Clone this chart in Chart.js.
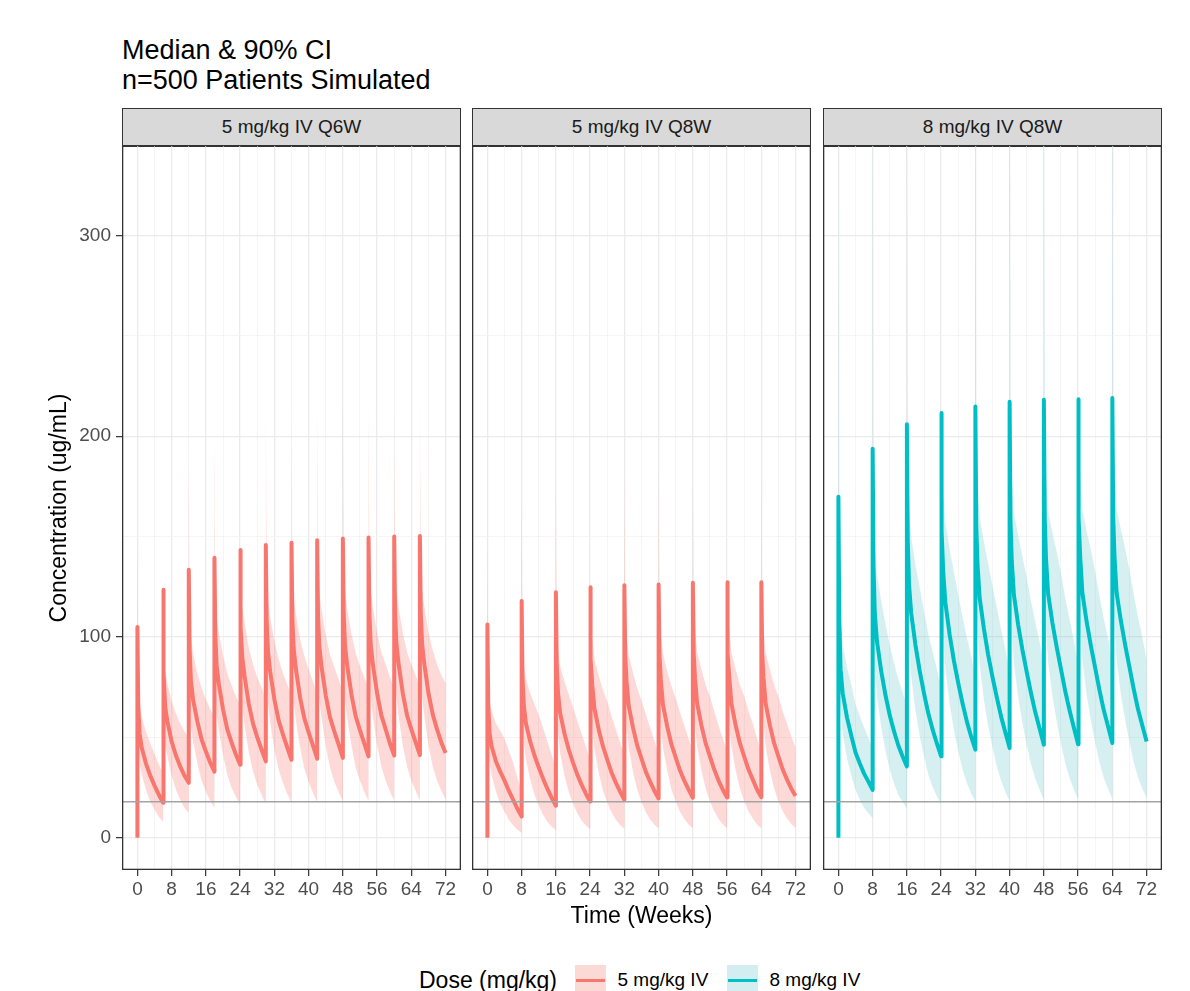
<!DOCTYPE html>
<html>
<head>
<meta charset="utf-8">
<script src="https://cdn.jsdelivr.net/npm/chart.js@4.4.1/dist/chart.umd.min.js"></script>
<style>
  html, body { margin: 0; padding: 0; background: #fff; }
  body { width: 1190px; height: 991px; overflow: hidden; position: relative;
         font-family: 'Liberation Sans', Arial, Helvetica, sans-serif; }
  .abs { position: absolute; white-space: nowrap; }
  canvas { position: absolute; }
  .strip { position: absolute; box-sizing: border-box; top: 108px; height: 38.5px;
           background: #d9d9d9; border: 1.3px solid #333; text-align: center;
           font-size: 19px; line-height: 35px; color: #1a1a1a; }
  .key { position: absolute; top: 965px; width: 31px; height: 31px; }
  .key span { position: absolute; left: 1px; right: 1px; top: 13.8px; height: 3.5px; }
</style>
</head>
<body>
<div class="abs" style="left:122px; top:34.5px; font-size:27px; line-height:30.7px; color:#000;">Median &amp; 90% CI<br>n=500 Patients Simulated</div>

<div class="strip" style="left:122px; width:339px;" id="strip0"></div>
<div class="strip" style="left:472px; width:339px;" id="strip1"></div>
<div class="strip" style="left:823px; width:339px;" id="strip2"></div>

<canvas id="c0" width="401" height="765" style="left:60px; top:145px; width:401px; height:765px;"></canvas>
<canvas id="c1" width="339" height="765" style="left:472px; top:145px; width:339px; height:765px;"></canvas>
<canvas id="c2" width="339" height="765" style="left:823px; top:145px; width:339px; height:765px;"></canvas>

<div class="abs" style="left:-142px; top:492.5px; width:400px; height:30px; line-height:30px; text-align:center; font-size:23px; transform:rotate(-90deg);">Concentration (ug/mL)</div>
<div class="abs" style="left:341.5px; top:900px; width:600px; height:30px; line-height:30px; text-align:center; font-size:23px;">Time (Weeks)</div>

<div class="abs" style="left:419px; top:965px; font-size:23px; line-height:30px;">Dose (mg/kg)</div>
<div class="key" style="left:574.5px; background:#fbdad5;"><span style="background:#f8766d;"></span></div>
<div class="abs" style="left:617.5px; top:965.4px; font-size:19px; line-height:30px;" id="leg0"></div>
<div class="key" style="left:726.5px; background:#d3eef0;"><span style="background:#00bfc4;"></span></div>
<div class="abs" style="left:769.5px; top:965.4px; font-size:19px; line-height:30px;" id="leg1"></div>

<script>
// ---- data ----
const panelTitles = ['5 mg/kg IV Q6W', '5 mg/kg IV Q8W', '8 mg/kg IV Q8W'];
const doseLabels = ['5 mg/kg IV', '8 mg/kg IV'];
const weekTicks = [0, 8, 16, 24, 32, 40, 48, 56, 64, 72];
const weekGrid = [0, 4, 8, 12, 16, 20, 24, 28, 32, 36, 40, 44, 48, 52, 56, 60, 64, 68, 72];
const concTicks = [0, 100, 200, 300];
const concGrid = [0, 50, 100, 150, 200, 250, 300];
const refLevel = 18;
const predose = 0;

const q6wDoseWeeks = [0, 6, 12, 18, 24, 30, 36, 42, 48, 54, 60, 66];
const q8wDoseWeeks = [0, 8, 16, 24, 32, 40, 48, 56, 64];
// sampling times after each dose (weeks)
const q6wOffsets = [0, 0.2, 0.5, 1, 2, 3, 4, 5, 6];
const q8wOffsets = [0, 0.2, 0.5, 1, 2, 3, 4, 5, 6, 7, 8];

// 5 mg/kg Q6W
const q6w5Median = [
  [105, 66, 52, 45, 37, 31, 26, 21.5, 17.5],
  [123.5, 82, 65, 58, 48, 41, 35.5, 31, 27.4],
  [133.5, 94, 78, 69, 58, 49, 43, 37.5, 33],
  [139.5, 101, 86, 77, 64, 54, 47.5, 41.5, 36.4],
  [143.3, 105, 90, 81, 67, 57, 50, 44, 38.1],
  [145.8, 108, 93, 83, 69, 58.5, 51.5, 45, 38.9],
  [147, 109, 94.5, 84.5, 70, 59.5, 52.5, 46, 39.4],
  [148.2, 110, 95.5, 85.5, 71, 60, 53, 46.5, 39.8],
  [149.1, 111, 96, 86, 71.5, 60.5, 53.5, 47, 40.6],
  [149.6, 111.5, 96.5, 86.5, 72, 61, 54, 47, 41],
  [150, 112, 97, 87, 72, 61, 54, 47.5, 41.2],
  [150.3, 112, 97, 87, 72, 61.5, 54, 47.5, 42.2]
];
const q6w5Lower = [
  [84, 50, 37, 31.5, 24, 18, 14, 10.5, 8],
  [99, 61.5, 47, 40.5, 31, 24, 19, 15, 12.5],
  [107, 70.5, 56, 48, 37, 28.5, 23, 18.5, 15],
  [112, 76, 62, 54, 41, 31.5, 25, 20.5, 16.5],
  [115, 79, 65, 56.5, 43, 33, 26.5, 21.5, 17],
  [117, 81, 67, 58, 44, 34, 27.5, 22, 17.5],
  [118, 82, 68, 59, 45, 34.5, 28, 22.5, 17.7],
  [119, 82.5, 69, 60, 45.5, 35, 28, 23, 18],
  [119, 83, 69, 60, 46, 35, 28.5, 23, 18.3],
  [120, 83.5, 69.5, 60.5, 46, 35.5, 28.5, 23, 18.5],
  [120, 84, 70, 61, 46, 35.5, 28.5, 23.5, 18.5],
  [120, 84, 70, 61, 46, 35.5, 28.5, 23.5, 19]
];
const q6w5Upper = [
  [152, 79, 67, 60, 53, 47, 42, 36.5, 32],
  [179, 98, 83, 77, 68, 62, 57, 53, 50],
  [194, 113, 100, 92, 82, 74.5, 69, 64, 60],
  [202, 121, 110, 102, 91, 82, 76, 70.5, 66],
  [208, 126, 115, 108, 95, 86.5, 80, 75, 69],
  [211, 130, 119, 110, 98, 89, 82, 76.5, 71],
  [213, 131, 121, 112, 99, 90.5, 84, 78, 72],
  [215, 132, 122, 114, 101, 91, 85, 79, 72.5],
  [216, 133, 123, 114, 101.5, 92, 85.5, 80, 74],
  [217, 134, 123.5, 115, 102, 92.5, 86.5, 80, 74.5],
  [217.5, 134.5, 124, 115.5, 102, 92.5, 86.5, 81, 75],
  [218, 134.5, 124, 115.5, 102, 93.5, 86.5, 81, 77]
];

// 5 mg/kg Q8W
const q8w5Median = [
  [106.2, 66, 52, 45.5, 38, 33, 28.5, 23.5, 19, 14.5, 10.6],
  [118, 80, 66, 57, 48, 41, 35, 29.5, 24.5, 20, 16],
  [122.3, 86, 72, 62, 52, 44, 37.5, 31.5, 26.5, 22, 18.1],
  [124.8, 89, 76, 64.5, 54, 45.5, 39, 32.5, 27.5, 23, 19],
  [125.8, 90.5, 78, 66, 55, 46, 39.5, 33, 28, 23.5, 19.6],
  [126.2, 91, 79, 66.5, 55.5, 46.5, 40, 33.5, 28.5, 24, 20],
  [127, 91.5, 79.5, 67, 56, 47, 40.5, 34, 28.5, 24, 20.1],
  [127.3, 92, 80, 67, 56, 47, 40.5, 34, 29, 24, 20.2],
  [127.3, 92, 80, 67, 56, 47, 40.5, 34, 29, 24.5, 20.9]
];
const q8w5Lower = [
  [85, 49.5, 37.5, 31, 23, 17, 13, 9, 6.3, 4, 2.5],
  [94, 60, 47.5, 39, 29, 21.5, 16, 11.5, 8, 5.6, 3.8],
  [98, 64.5, 52, 42, 31, 23, 17, 12.3, 8.7, 6.2, 4.3],
  [100, 67, 55, 44, 32.5, 23.5, 17.5, 12.7, 9, 6.4, 4.6],
  [100.5, 68, 56, 45, 33, 24, 17.8, 12.9, 9.2, 6.6, 4.7],
  [101, 68, 57, 45, 33.5, 24, 18, 13, 9.4, 6.7, 4.8],
  [101.5, 68.5, 57, 45.5, 33.5, 24.5, 18.2, 13.3, 9.4, 6.7, 4.8],
  [102, 69, 57.5, 45.5, 33.5, 24.5, 18.2, 13.3, 9.6, 6.7, 4.8],
  [102, 69, 57.5, 45.5, 33.5, 24.5, 18.2, 13.3, 9.6, 6.9, 5]
];
const q8w5Upper = [
  [154, 79, 67.5, 63, 57, 53.5, 49.5, 43.5, 37.5, 30, 23],
  [171, 96, 86, 79, 72, 66.5, 61, 55, 48, 41.5, 34.5],
  [177, 103, 93.5, 85.5, 78, 71.5, 65, 58.5, 52, 45.5, 39],
  [181, 107, 99, 89, 81, 73.5, 68, 60.5, 54, 47.5, 41],
  [182, 108.5, 101, 91, 82.5, 74.5, 68.5, 61.5, 55, 48.5, 42],
  [183, 109, 102.5, 92, 83, 75.5, 69.5, 62.5, 56, 49.5, 43],
  [184, 110, 103.5, 92.5, 84, 76, 70.5, 63, 56, 49.5, 43],
  [184.5, 110.5, 104, 92.5, 84, 76, 70.5, 63, 57, 49.5, 43.5],
  [184.5, 110.5, 104, 92.5, 84, 76, 70.5, 63, 57, 50.5, 45]
];

// 8 mg/kg Q8W
const q8w8Median = [
  [169.9, 110, 84, 72, 60, 51, 42.5, 37, 32, 28, 23.9],
  [193.8, 135, 112, 98, 83, 71, 61, 53, 46, 40.5, 35.6],
  [206, 148, 126, 112, 96, 83, 72, 62, 54, 47, 40.6],
  [211.5, 153, 132, 117, 101, 88, 77, 67, 58, 50.5, 43.9],
  [214.8, 156, 136, 119.5, 104, 91, 80, 70, 60.5, 52.5, 44.7],
  [217.1, 158, 138, 121, 106, 93.5, 82.5, 72, 62.5, 54.5, 46.4],
  [218.1, 159, 139, 121.5, 107, 95, 84, 73, 63.5, 55, 46.6],
  [218.4, 159.5, 139.5, 122, 107.5, 95.5, 84.5, 73.5, 63.5, 55.5, 47.2],
  [219, 160, 140, 122, 108, 96, 85, 74, 64, 56, 48]
];
const q8w8Lower = [
  [136, 86, 63, 52, 39.5, 31, 24, 19, 15, 12.3, 9.8],
  [155, 105, 84, 70.5, 55, 43.5, 34, 27, 21.5, 17.8, 14.6],
  [165, 115.5, 94.5, 80.5, 63.5, 50.5, 40.5, 31.5, 25.5, 20.7, 16.6],
  [169, 119.5, 99, 84, 66.5, 53.5, 43, 34, 27.3, 22.2, 18],
  [172, 121.5, 102, 86, 68.5, 55.5, 45, 35.7, 28.4, 23, 18.3],
  [173.5, 123, 103.5, 87, 70, 57, 46, 36.7, 29.4, 24, 19],
  [174.5, 124, 104, 87.5, 70.5, 58, 47, 37.2, 29.8, 24.2, 19.1],
  [174.5, 124.5, 104.5, 88, 71, 58.3, 47.3, 37.5, 29.8, 24.4, 19.4],
  [175, 125, 105, 88, 71.3, 58.5, 47.6, 37.7, 30, 24.6, 19.8]
];
const q8w8Upper = [
  [357, 137.5, 109, 96.5, 85, 76.5, 66.5, 60.5, 55, 50, 44],
  [407, 169, 145.5, 131.5, 118, 106.5, 96, 87, 79, 72.5, 66],
  [433, 185, 164, 150, 136, 124.5, 113, 101.5, 93, 84, 75],
  [444, 191, 171.5, 157, 143.5, 132, 121, 110, 100, 90.5, 81],
  [451, 195, 177, 160, 147.5, 136.5, 125.5, 115, 104, 94, 82.7],
  [456, 197.5, 179.5, 162, 150.5, 140, 129.5, 118, 107.5, 97.5, 86],
  [458, 199, 180.5, 163, 152, 142.5, 132, 119.5, 109, 98.5, 86.2],
  [458.5, 199.5, 181.5, 163.5, 152.5, 143.5, 132.5, 120.5, 109, 99.5, 87.3],
  [460, 200, 182, 163.5, 153.5, 144, 133.5, 121.5, 110, 100, 88.8]
];

const salmon = '#F8766D';
const salmonFill = 'rgba(248, 118, 109, 0.27)';
const teal = '#00BFC4';
const tealFill = 'rgba(70, 185, 195, 0.22)';

// ---- helpers ----
Chart.defaults.font.family = "'Liberation Sans', Arial, Helvetica, sans-serif";

function linePoints(doses, offsets, vals) {
    const pts = [{ x: doses[0], y: predose }];
    doses.forEach((d, i) => {
        offsets.forEach((o, j) => pts.push({ x: d + o, y: vals[i][j] }));
    });
    return pts;
}

// closed outline: upper edge forward, lower edge back
function bandPoints(doses, offsets, lo, hi) {
    const top = [], bottom = [];
    doses.forEach((d, i) => {
        offsets.forEach((o, j) => {
            top.push({ x: d + o, y: hi[i][j] });
            bottom.push({ x: d + o, y: lo[i][j] });
        });
    });
    return top.concat(bottom.reverse());
}

const panelFrame = {
    id: 'panelFrame',
    afterDatasetsDraw(chart) {
        const { ctx, chartArea: a } = chart;
        const yRef = chart.scales.y.getPixelForValue(refLevel);
        ctx.save();
        ctx.strokeStyle = '#a3a3a3';
        ctx.lineWidth = 1.6;
        ctx.beginPath();
        ctx.moveTo(a.left, yRef);
        ctx.lineTo(a.right, yRef);
        ctx.stroke();
        ctx.strokeStyle = '#333333';
        ctx.lineWidth = 1.3;
        ctx.strokeRect(a.left + 0.65, a.top + 0.65, a.right - a.left - 1.3, a.bottom - a.top - 1.3);
        ctx.restore();
    }
};

function makePanel(id, doses, offsets, med, lo, hi, color, fillColor, showY) {
    return new Chart(id, {
        type: 'line',
        data: {
            datasets: [{
                data: linePoints(doses, offsets, med),
                borderColor: color,
                borderWidth: 4,
                borderJoinStyle: 'round',
                pointRadius: 0,
                fill: false,
                tension: 0
            }, {
                data: bandPoints(doses, offsets, lo, hi),
                borderColor: 'rgba(0,0,0,0)',
                borderWidth: 0,
                backgroundColor: fillColor,
                pointRadius: 0,
                fill: 'shape',
                tension: 0
            }]
        },
        options: {
            responsive: false,
            animation: false,
            events: [],
            layout: { padding: 0 },
            plugins: { legend: { display: false }, tooltip: { enabled: false } },
            scales: {
                x: {
                    type: 'linear',
                    min: -3.6,
                    max: 75.6,
                    afterBuildTicks: s => { s.ticks = weekGrid.map(v => ({ value: v })); },
                    afterFit: s => { s.height = 40; s.paddingLeft = 0; s.paddingRight = 0; },
                    border: { display: false },
                    grid: {
                        color: c => weekTicks.includes(c.tick.value) ? '#ebebeb' : '#f3f3f3',
                        lineWidth: c => weekTicks.includes(c.tick.value) ? 1.3 : 0.8,
                        tickColor: c => weekTicks.includes(c.tick.value) ? '#333333' : 'rgba(0,0,0,0)',
                        tickLength: 6,
                        tickWidth: 1.2
                    },
                    ticks: {
                        autoSkip: false,
                        maxRotation: 0,
                        minRotation: 0,
                        padding: 2,
                        color: '#4d4d4d',
                        font: { size: 19 },
                        callback: v => weekTicks.includes(v) ? String(v) : ''
                    }
                },
                y: {
                    min: -16,
                    max: 345,
                    afterBuildTicks: s => { s.ticks = concGrid.map(v => ({ value: v })); },
                    afterFit: s => { s.width = showY ? 62 : 0; s.paddingTop = 0; s.paddingBottom = 0; },
                    border: { display: false },
                    grid: {
                        color: c => concTicks.includes(c.tick.value) ? '#ebebeb' : '#f3f3f3',
                        lineWidth: c => concTicks.includes(c.tick.value) ? 1.3 : 0.8,
                        tickColor: c => concTicks.includes(c.tick.value) ? '#333333' : 'rgba(0,0,0,0)',
                        drawTicks: showY,
                        tickLength: 6,
                        tickWidth: 1.2
                    },
                    ticks: {
                        display: showY,
                        padding: 5,
                        color: '#4d4d4d',
                        font: { size: 19 },
                        callback: v => concTicks.includes(v) ? String(v) : ''
                    }
                }
            }
        },
        plugins: [panelFrame]
    });
}

panelTitles.forEach((t, i) => { document.getElementById('strip' + i).textContent = t; });
doseLabels.forEach((t, i) => { document.getElementById('leg' + i).textContent = t; });

makePanel('c0', q6wDoseWeeks, q6wOffsets, q6w5Median, q6w5Lower, q6w5Upper, salmon, salmonFill, true);
makePanel('c1', q8wDoseWeeks, q8wOffsets, q8w5Median, q8w5Lower, q8w5Upper, salmon, salmonFill, false);
makePanel('c2', q8wDoseWeeks, q8wOffsets, q8w8Median, q8w8Lower, q8w8Upper, teal, tealFill, false);
</script>
</body>
</html>
